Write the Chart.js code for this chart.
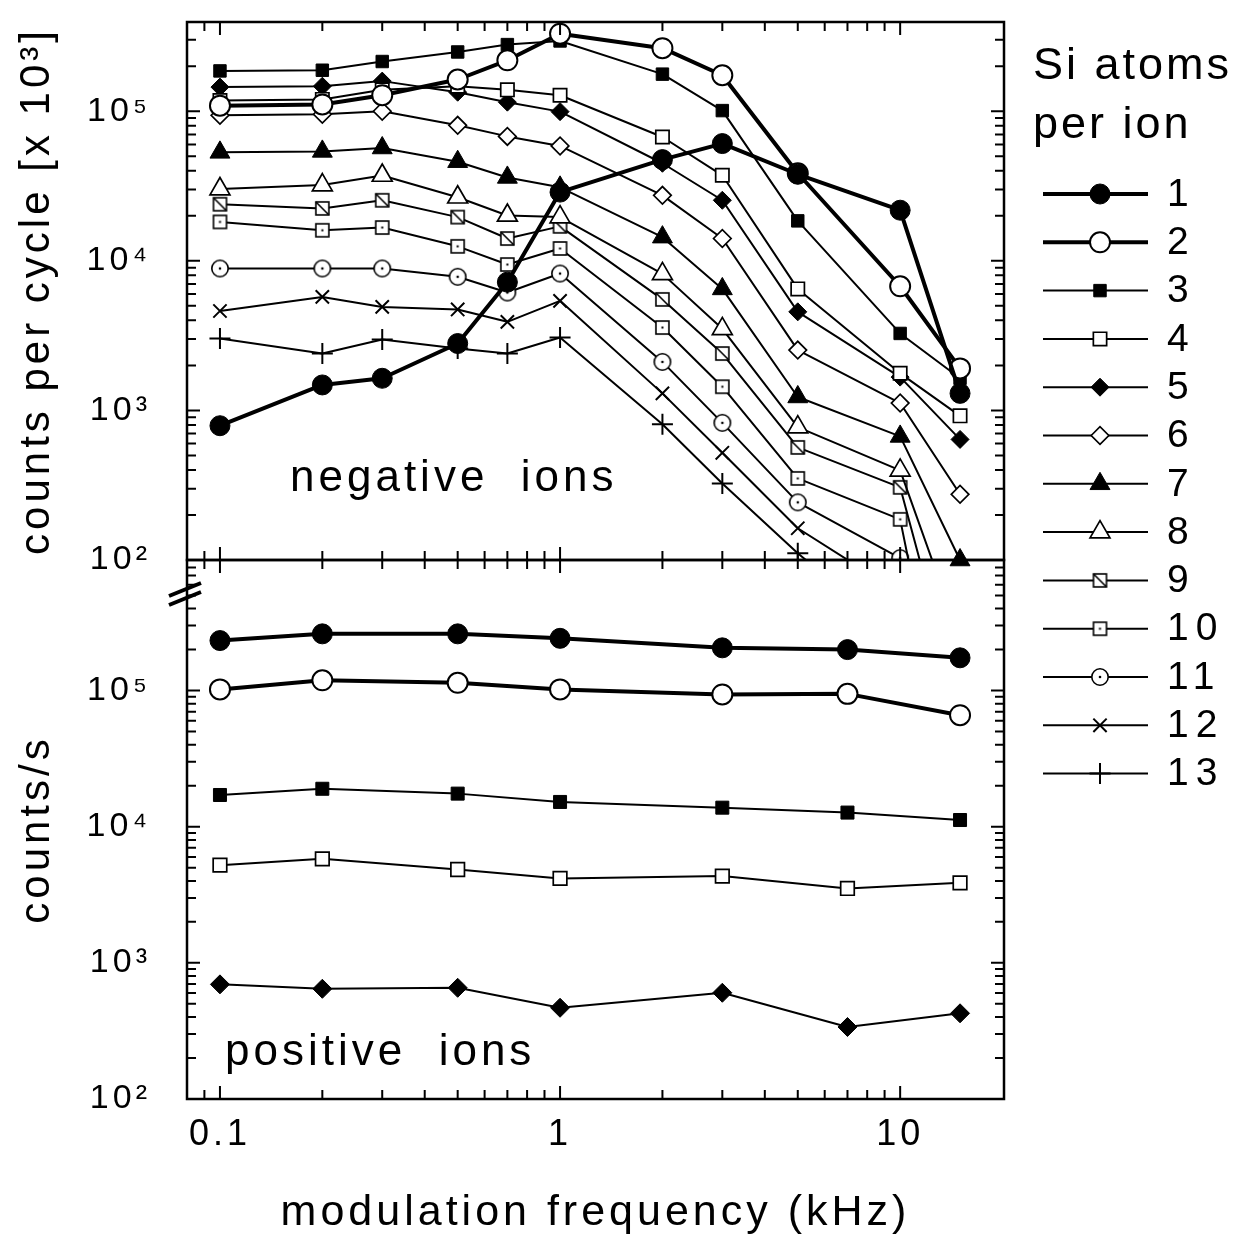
<!DOCTYPE html>
<html>
<head>
<meta charset="utf-8">
<title>Si cluster ions vs modulation frequency</title>
<script src="https://cdn.jsdelivr.net/npm/chart.js@4/dist/chart.umd.min.js"></script>
<style>
  html, body { margin: 0; padding: 0; background: #fff; }
  #wrap { position: relative; width: 1239px; height: 1242px; }
  #wrap canvas { position: absolute; left: 0; top: 0; }
</style>
</head>
<body>
<div id="wrap">
  <canvas id="negChart" width="1239" height="1242"></canvas>
  <canvas id="posChart" width="1239" height="1242"></canvas>
</div>
<script>
// modulation frequencies (kHz)
const freqNeg = [0.1, 0.2, 0.3, 0.5, 0.7, 1, 2, 3, 5, 10, 15];
const freqPos = [0.1, 0.2, 0.5, 1, 3, 7, 15];

// negative ions, counts per cycle (x 10^3), one array per cluster size
const neg1  = [790, 1480, 1640, 2800, 7200, 28800, 47500, 60800, 37900, 21800, 1300];
const neg2  = [109000, 111000, 128000, 163000, 219000, 330000, 264000, 174000, 38500, 6760, 1910];
const neg3  = [186000, 188000, 215000, 249000, 279000, 295000, 177000, 101000, 18500, 3270, 1640];
const neg4  = [118000, 120000, 139000, 147000, 139000, 128000, 67300, 37300, 6490, 1770, 920];
const neg5  = [145000, 147000, 159000, 134000, 115000, 99400, 44900, 25400, 4560, 1670, 640];
const neg6  = [94000, 95500, 100000, 80500, 67900, 58600, 27400, 14100, 2530, 1120, 275];
const neg7  = [53100, 53900, 56800, 46000, 36100, 31000, 14400, 6490, 1230, 670, 100];
const neg8  = [30200, 32100, 37200, 26600, 20100, 19600, 8180, 3510, 773, 397, 30];
const neg9  = [23900, 22400, 25400, 19600, 14100, 17000, 5520, 2400, 566, 306, 10];
const neg10 = [18200, 16000, 16700, 12500, 9450, 12100, 3580, 1440, 351, 187, 2];
const neg11 = [8890, 8890, 8890, 7820, 6140, 8220, 2110, 826, 243, 103, 40];
const neg12 = [4620, 5740, 4920, 4730, 3910, 5400, 1300, 521, 163, 60, null];
const neg13 = [3030, 2400, 2980, 2590, 2400, 3070, 809, 325, 111, 30, null];

// positive ions, counts/s
const pos1 = [233000, 261000, 261000, 242000, 206000, 200000, 174000];
const pos2 = [102000, 119000, 114000, 102000, 93600, 94600, 65900];
const pos3 = [17100, 19000, 17500, 15200, 13800, 12700, 11200];
const pos4 = [5220, 5810, 4850, 4170, 4340, 3520, 3870];
const pos5 = [695, 645, 656, 468, 603, 338, 426];

const sizeLabels = ['1', '2', '3', '4', '5', '6', '7', '8', '9', '10', '11', '12', '13'];
const xTickValues = [0.1, 1, 10];
const xTickLabels = ['0.1', '1', '10'];
const yTickValues = [100, 1000, 10000, 100000];
const yTickLabels = ['10²', '10³', '10⁴', '10⁵'];

Chart.defaults.font.family = '"Liberation Sans", Arial, Helvetica, sans-serif';
Chart.defaults.color = '#000';

// little marker pictures for the styles chart.js doesn't have
function makeMarker(size, draw) {
  const c = document.createElement('canvas');
  c.width = size; c.height = size;
  const g = c.getContext('2d');
  g.lineWidth = 1.6; g.strokeStyle = '#000'; g.fillStyle = '#fff';
  draw(g, size);
  return c;
}
const squareSlash = makeMarker(17, (g, s) => {
  g.fillRect(2, 2, s - 4, s - 4); g.strokeRect(2, 2, s - 4, s - 4);
  g.beginPath(); g.moveTo(2, 2); g.lineTo(s - 2, s - 2); g.stroke();
});
const squareDot = makeMarker(17, (g, s) => {
  g.fillRect(2, 2, s - 4, s - 4); g.strokeRect(2, 2, s - 4, s - 4);
  g.fillStyle = '#000'; g.fillRect(s / 2 - 1, s / 2 - 1, 2, 2);
});
const circleDot = makeMarker(20, (g, s) => {
  g.beginPath(); g.arc(s / 2, s / 2, 8.2, 0, Math.PI * 2); g.fill(); g.stroke();
  g.fillStyle = '#000'; g.beginPath(); g.arc(s / 2, s / 2, 1.3, 0, Math.PI * 2); g.fill();
});

const negStyle = [
  { shape: 'circle', r: 10, fill: '#000', line: 4, edge: 1 },
  { shape: 'circle', r: 10, fill: '#fff', line: 4, edge: 2 },
  { shape: 'rect', r: 8.8, fill: '#000', line: 2, edge: 1 },
  { shape: 'rect', r: 9.4, fill: '#fff', line: 2, edge: 1.7 },
  { shape: 'rectRot', r: 9, fill: '#000', line: 2, edge: 1 },
  { shape: 'rectRot', r: 8.8, fill: '#fff', line: 2, edge: 1.7 },
  { shape: 'triangle', r: 11.5, fill: '#000', line: 2, edge: 1, clip: false },
  { shape: 'triangle', r: 11.5, fill: '#fff', line: 2, edge: 1.7 },
  { shape: squareSlash, r: 8, fill: '#fff', line: 2, edge: 1.7 },
  { shape: squareDot, r: 8, fill: '#fff', line: 2, edge: 1.7 },
  { shape: circleDot, r: 9, fill: '#fff', line: 2, edge: 1.7 },
  { shape: 'crossRot', r: 9.4, fill: '#000', line: 2, edge: 2 },
  { shape: 'cross', r: 10.5, fill: '#000', line: 2, edge: 2 }
];
const posStyle = [
  { shape: 'circle', r: 10, fill: '#000', line: 4, edge: 1 },
  { shape: 'circle', r: 10, fill: '#fff', line: 4, edge: 2 },
  { shape: 'rect', r: 9.2, fill: '#000', line: 2, edge: 1 },
  { shape: 'rect', r: 9.6, fill: '#fff', line: 2, edge: 1.7 },
  { shape: 'rectRot', r: 9.5, fill: '#000', line: 2, edge: 1 }
];

function makeDataset(label, xs, ys, st) {
  const ds = {
    label: label,
    data: xs.map((x, i) => ({ x: x, y: ys[i] })),
    borderColor: '#000', borderWidth: st.line, borderJoinStyle: 'round',
    pointStyle: st.shape, pointRadius: st.r, pointHoverRadius: st.r,
    pointBackgroundColor: st.fill, pointBorderColor: '#000',
    pointBorderWidth: st.edge, pointHoverBorderWidth: st.edge,
    tension: 0, fill: false, spanGaps: false
  };
  if (st.clip !== undefined) ds.clip = st.clip;
  return ds;
}

const negSeries = [neg1, neg2, neg3, neg4, neg5, neg6, neg7, neg8, neg9, neg10, neg11, neg12, neg13];
const posSeries = [pos1, pos2, pos3, pos4, pos5];

function near(a, b) { return Math.abs(a - b) / b < 1e-6; }
function xLabel(v) {
  const i = xTickValues.findIndex(t => near(v, t));
  return i < 0 ? '' : xTickLabels[i];
}
function yLabel(v) {
  const i = yTickValues.findIndex(t => near(v, t));
  return i < 0 ? '' : yTickLabels[i];
}
function isDecade(v) { const e = Math.log10(v); return Math.abs(e - Math.round(e)) < 1e-6; }
function isWhole(v) {
  const e = Math.floor(Math.log10(v) + 1e-9);
  const m = v / Math.pow(10, e);
  return Math.abs(m - Math.round(m)) < 1e-6;
}
// keep the plot boxes where they are: no extra room for edge labels
function noEdgePadding(s) {
  s.paddingTop = 0; s.paddingBottom = 0; s.paddingLeft = 0; s.paddingRight = 0;
}

// frame + inward ticks on all four sides
const axisFrame = {
  id: 'axisFrame',
  beforeDraw(chart) { chart.ctx.letterSpacing = '4px'; },
  afterDatasetsDraw(chart) {
    const ctx = chart.ctx, a = chart.chartArea, xs = chart.scales.x, ys = chart.scales.y;
    ctx.save();
    ctx.strokeStyle = '#000';
    ctx.lineWidth = 2;
    ctx.beginPath();
    xs.ticks.forEach(t => {
      if (!isWhole(t.value)) return;
      const px = xs.getPixelForValue(t.value);
      if (px < a.left + 2 || px > a.right - 2) return;
      const len = isDecade(t.value) ? 13 : 9;
      ctx.moveTo(px, a.bottom); ctx.lineTo(px, a.bottom - len);
      ctx.moveTo(px, a.top); ctx.lineTo(px, a.top + len);
    });
    ys.ticks.forEach(t => {
      if (!isWhole(t.value)) return;
      const py = ys.getPixelForValue(t.value);
      if (py < a.top + 2 || py > a.bottom - 2) return;
      const len = isDecade(t.value) ? 13 : 9;
      ctx.moveTo(a.left, py); ctx.lineTo(a.left + len, py);
      ctx.moveTo(a.right, py); ctx.lineTo(a.right - len, py);
    });
    ctx.stroke();
    ctx.lineWidth = 2.5;
    ctx.strokeRect(a.left, a.top, a.right - a.left, a.bottom - a.top);
    ctx.restore();
  }
};

function note(id, text, x, y) {
  return {
    id: id,
    afterDraw(chart) {
      const ctx = chart.ctx;
      ctx.save();
      ctx.font = '44px "Liberation Sans", Arial, sans-serif';
      ctx.fillStyle = '#000';
      ctx.letterSpacing = '4px';
      ctx.textBaseline = 'alphabetic';
      ctx.fillText(text, x, y);
      ctx.restore();
    }
  };
}

// legend at the right: line + marker + size number
const sizeLegend = {
  id: 'sizeLegend',
  afterDraw(chart) {
    const ctx = chart.ctx;
    ctx.save();
    ctx.fillStyle = '#000';
    ctx.font = '45px "Liberation Sans", Arial, sans-serif';
    ctx.letterSpacing = '3px';
    ctx.textBaseline = 'alphabetic';
    ctx.fillText('Si atoms', 1033, 79);
    ctx.fillText('per ion', 1033, 138);
    chart.data.datasets.forEach((ds, i) => {
      const y = 194 + i * 48.3;
      ctx.strokeStyle = '#000';
      ctx.lineWidth = ds.borderWidth;
      ctx.beginPath(); ctx.moveTo(1043, y); ctx.lineTo(1148, y); ctx.stroke();
      ctx.fillStyle = ds.pointBackgroundColor;
      ctx.lineWidth = ds.pointBorderWidth;
      Chart.helpers.drawPoint(ctx, {
        pointStyle: ds.pointStyle, radius: ds.pointRadius, rotation: 0, borderWidth: ds.pointBorderWidth
      }, 1100, y);
      ctx.fillStyle = '#000';
      ctx.font = '39px "Liberation Sans", Arial, sans-serif';
      ctx.letterSpacing = '7px';
      ctx.textBaseline = 'middle';
      ctx.fillText(ds.label, 1167, y + 1);
    });
    ctx.restore();
  }
};

// axis break mark between the panels
const breakMark = {
  id: 'breakMark',
  afterDraw(chart) {
    const ctx = chart.ctx, a = chart.chartArea;
    ctx.save();
    ctx.strokeStyle = '#000';
    ctx.lineWidth = 4;
    ctx.beginPath();
    ctx.moveTo(a.left - 18, a.top + 36); ctx.lineTo(a.left + 14, a.top + 23);
    ctx.moveTo(a.left - 18, a.top + 45); ctx.lineTo(a.left + 14, a.top + 32);
    ctx.stroke();
    ctx.restore();
  }
};

function yAxis(min, max, title) {
  return {
    type: 'logarithmic', min: min, max: max,
    afterFit: s => { s.width = 187; noEdgePadding(s); },
    grid: { display: false, drawTicks: false }, border: { display: false },
    ticks: { autoSkip: false, padding: 36, font: { size: 34 }, callback: yLabel },
    title: { display: true, text: title, font: { size: 42 }, padding: { top: 12, bottom: 0 } }
  };
}

new Chart(document.getElementById('negChart'), {
  type: 'line',
  data: { datasets: negSeries.map((ys, i) => makeDataset(sizeLabels[i], freqNeg, ys, negStyle[i])) },
  options: {
    responsive: false, animation: false, events: [],
    layout: { autoPadding: false, padding: { left: 0, top: 22, right: 235, bottom: 682 } },
    plugins: { legend: { display: false }, tooltip: { enabled: false } },
    scales: {
      x: {
        type: 'logarithmic', min: 0.08, max: 20.2,
        afterFit: s => { s.height = 0; noEdgePadding(s); },
        grid: { display: false, drawTicks: false }, border: { display: false },
        ticks: { display: false }
      },
      y: yAxis(100, 395000, 'counts per cycle [x 10³]')
    }
  },
  plugins: [axisFrame, sizeLegend, note('negNote', 'negative  ions', 290, 491)]
});

new Chart(document.getElementById('posChart'), {
  type: 'line',
  data: { datasets: posSeries.map((ys, i) => makeDataset(sizeLabels[i], freqPos, ys, posStyle[i])) },
  options: {
    responsive: false, animation: false, events: [],
    layout: { autoPadding: false, padding: { left: 0, top: 560, right: 235, bottom: 0 } },
    plugins: { legend: { display: false }, tooltip: { enabled: false } },
    scales: {
      x: {
        type: 'logarithmic', min: 0.08, max: 20.2,
        afterFit: s => { s.height = 143; noEdgePadding(s); },
        grid: { display: false, drawTicks: false }, border: { display: false },
        ticks: { autoSkip: false, maxRotation: 0, padding: 14, font: { size: 36 }, callback: xLabel },
        title: { display: true, text: 'modulation frequency (kHz)', font: { size: 43 }, padding: { top: 0, bottom: 3 } }
      },
      y: yAxis(100, 910000, 'counts/s')
    }
  },
  plugins: [axisFrame, breakMark, note('posNote', 'positive  ions', 225, 1065)]
});
</script>
</body>
</html>
